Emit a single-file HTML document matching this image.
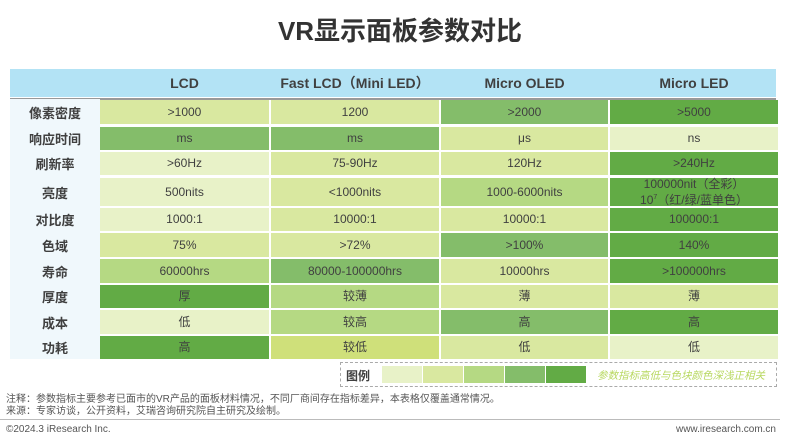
<!DOCTYPE html>
<html><head><meta charset="utf-8"><style>
body{margin:0;width:800px;height:439px;background:#fff;position:relative;overflow:hidden;font-family:"Liberation Sans","Noto Sans CJK SC",sans-serif;color:#404040}
.a{position:absolute}
.t{left:0;width:800px;top:11px;text-align:center;font-size:26px;font-weight:bold;color:#333}
.h{top:69px;left:10px;width:766px;height:28px;background:#b3e3f5}
.hc{top:69px;height:28px;line-height:28px;text-align:center;font-size:14px;font-weight:bold;color:#404040}
.lc{left:10px;width:90px;top:99px;height:260px;background:#f0f8fc}
.c{display:flex;align-items:center;justify-content:center;text-align:center;font-size:12px;line-height:13px}
.l{left:10px;width:90px;font-weight:bold;font-size:13px;display:flex;align-items:center;justify-content:center}
</style></head><body>
<div class="a t">VR显示面板参数对比</div>
<div class="a h"></div>
<div class="a hc" style="left:100px;width:169px">LCD</div>
<div class="a hc" style="left:271px;width:168px">Fast LCD（Mini LED）</div>
<div class="a hc" style="left:441px;width:167px">Micro OLED</div>
<div class="a hc" style="left:610px;width:168px">Micro LED</div>
<div class="a" style="left:10px;top:98px;width:766px;height:2px;background:#999"></div>
<div class="a lc"></div>
<div id="g"></div>
<div class="a" style="left:340px;top:362px;width:435px;height:23px;border:1px dashed #aaa"></div>
<div class="a" style="left:346px;top:367px;font-size:12px;font-weight:bold;color:#404040">图例</div>
<div class="a" style="left:382px;top:366px;width:40px;height:17px;background:#e8f2c8"></div>
<div class="a" style="left:423px;top:366px;width:40px;height:17px;background:#d9e8a0"></div>
<div class="a" style="left:464px;top:366px;width:40px;height:17px;background:#b5d983"></div>
<div class="a" style="left:505px;top:366px;width:40px;height:17px;background:#84bd6a"></div>
<div class="a" style="left:546px;top:366px;width:40px;height:17px;background:#62ab45"></div>
<div class="a" style="left:597px;top:368px;font-size:10.5px;font-style:italic;color:#b8d860;white-space:nowrap">参数指标高低与色块颜色深浅正相关</div>
<div class="a" style="left:6px;top:394px;font-size:10px;color:#555;line-height:12px">注释：参数指标主要参考已面市的VR产品的面板材料情况，不同厂商间存在指标差异，本表格仅覆盖通常情况。<br>来源：专家访谈，公开资料，艾瑞咨询研究院自主研究及绘制。</div>
<div class="a" style="left:0;top:419px;width:780px;height:1px;background:#bbb"></div>
<div class="a" style="left:6px;top:424px;font-size:10px;color:#555">©2024.3 iResearch Inc.</div>
<div class="a" style="right:24px;top:424px;font-size:10px;color:#555">www.iresearch.com.cn</div>
<script>
var C=['','#e8f2c8','#d9e8a0','#b5d983','#84bd6a','#62ab45','#cfe07a'];
var rows=[[100,124],[127,150],[152,175],[178,206],[208,231],[233,257],[259,283],[285,308],[310,334],[336,359]];
var cols=[[100,269],[271,439],[441,608],[610,778]];
var L=['像素密度','响应时间','刷新率','亮度','对比度','色域','寿命','厚度','成本','功耗'];
var D=[[['&gt;1000',2],['1200',2],['&gt;2000',4],['&gt;5000',5]],
[['ms',4],['ms',4],['μs',2],['ns',1]],
[['&gt;60Hz',1],['75-90Hz',2],['120Hz',2],['&gt;240Hz',5]],
[['500nits',1],['&lt;1000nits',2],['1000-6000nits',3],['100000nit（全彩）<br>10<sup style="font-size:7px">7</sup>（红/绿/蓝单色）',5]],
[['1000:1',1],['10000:1',2],['10000:1',2],['100000:1',5]],
[['75%',2],['&gt;72%',2],['&gt;100%',4],['140%',5]],
[['60000hrs',3],['80000-100000hrs',4],['10000hrs',2],['&gt;100000hrs',5]],
[['厚',5],['较薄',3],['薄',2],['薄',2]],
[['低',1],['较高',3],['高',4],['高',5]],
[['高',5],['较低',6],['低',2],['低',1]]];
var h='';
rows.forEach(function(r,i){
h+='<div class="a l" style="top:'+r[0]+'px;height:'+(r[1]-r[0])+'px">'+L[i]+'</div>';
cols.forEach(function(c,j){var d=D[i][j];
h+='<div class="a c" style="left:'+c[0]+'px;width:'+(c[1]-c[0])+'px;top:'+r[0]+'px;height:'+(r[1]-r[0])+'px;background:'+C[d[1]]+'"><span style="white-space:nowrap">'+d[0]+'</span></div>';});});
document.getElementById('g').innerHTML=h;
</script>
</body></html>
